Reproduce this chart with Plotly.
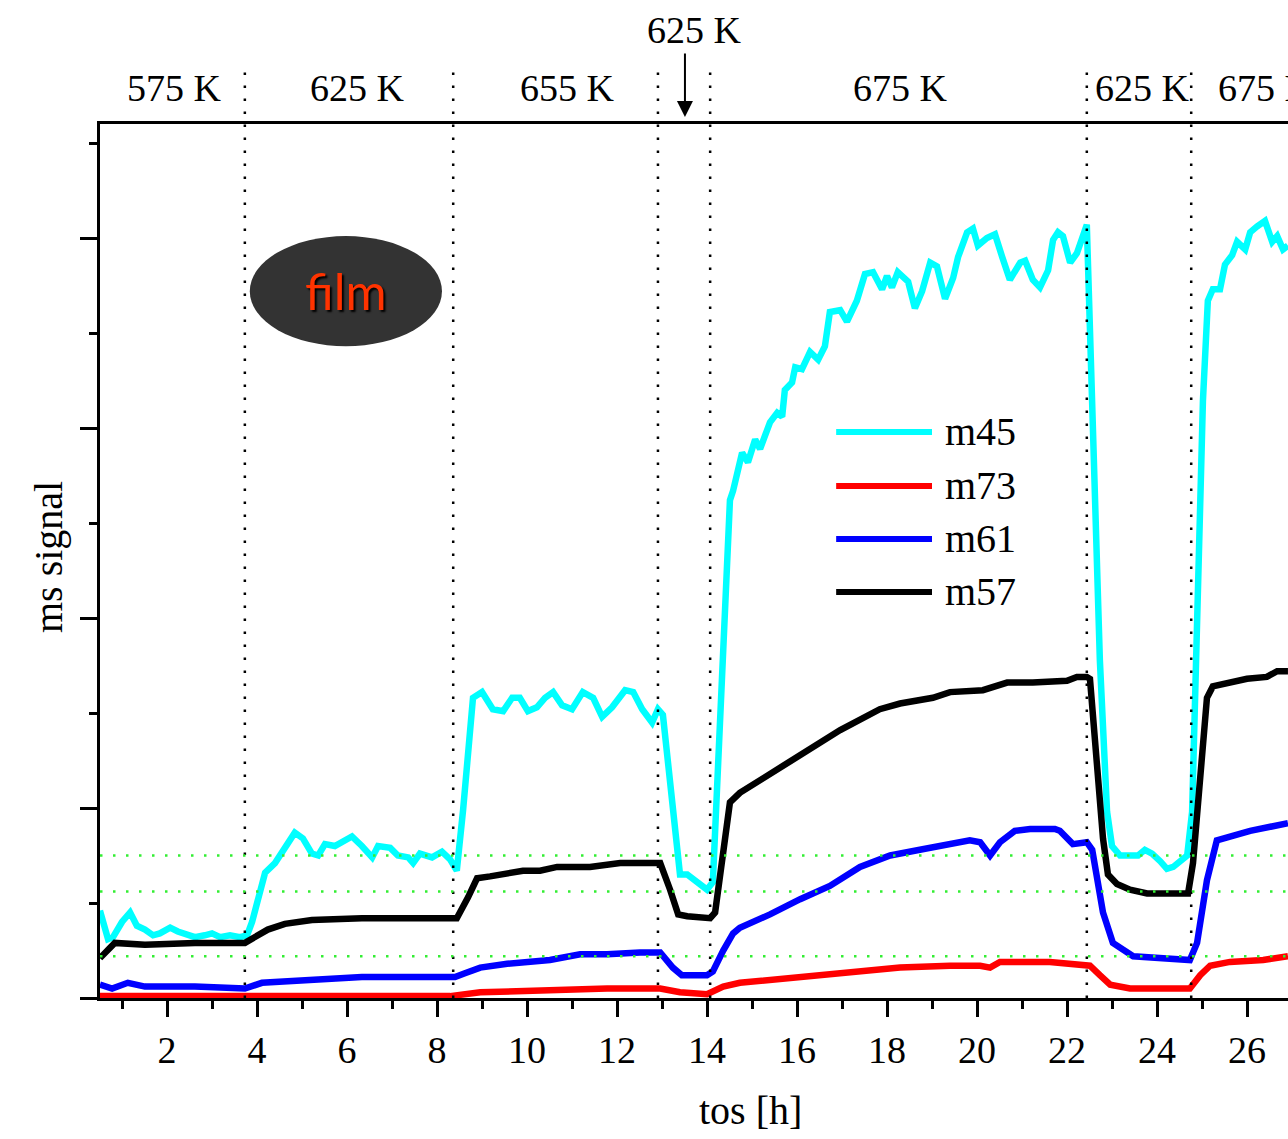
import plotly.graph_objects as go

# ---------------- data (tos [h], ms signal in arbitrary units) ----------------
m45_x = [0.51, 0.69, 0.80, 1.00, 1.18, 1.33, 1.51, 1.69, 1.84, 2.07, 2.24, 2.40, 2.62, 2.84, 3.00, 3.18,
         3.40, 3.62, 3.78, 3.89, 4.02, 4.18, 4.40, 4.62, 4.84, 5.02, 5.22, 5.36, 5.51, 5.73, 5.91, 6.11,
         6.33, 6.56, 6.69, 6.96, 7.13, 7.36, 7.47, 7.62, 7.89, 8.11, 8.29, 8.44, 8.58, 8.80, 9.00, 9.24,
         9.47, 9.67, 9.84, 10.02, 10.22, 10.40, 10.58, 10.78, 11.00, 11.24, 11.47, 11.67, 11.89, 12.18,
         12.36, 12.56, 12.78, 12.91, 13.02, 13.18, 13.40, 13.56, 13.80, 14.00, 14.13, 14.51, 14.58, 14.67,
         14.78, 14.91, 15.07, 15.18, 15.40, 15.56, 15.67, 15.73, 15.89, 15.96, 16.11, 16.29, 16.47, 16.62,
         16.73, 16.96, 17.11, 17.33, 17.51, 17.69, 17.89, 18.00, 18.11, 18.24, 18.47, 18.62, 18.78, 18.96,
         19.11, 19.29, 19.47, 19.58, 19.78, 19.91, 20.02, 20.22, 20.40, 20.56, 20.73, 20.96, 21.07, 21.24,
         21.40, 21.58, 21.69, 21.80, 21.91, 22.07, 22.22, 22.44, 22.58, 22.73, 22.89, 23.00, 23.18, 23.40,
         23.58, 23.73, 23.89, 24.07, 24.22, 24.36, 24.51, 24.67, 24.78, 24.89, 25.02, 25.13, 25.24, 25.40,
         25.51, 25.67, 25.78, 25.96, 26.07, 26.22, 26.40, 26.56, 26.67, 26.80, 26.91]
m45_y = [0.46, 0.31, 0.32, 0.40, 0.45, 0.38, 0.36, 0.33, 0.34, 0.37, 0.35, 0.34, 0.32, 0.33, 0.34, 0.32,
         0.33, 0.32, 0.33, 0.40, 0.52, 0.66, 0.71, 0.79, 0.87, 0.84, 0.76, 0.75, 0.81, 0.80, 0.82, 0.85,
         0.80, 0.74, 0.80, 0.79, 0.75, 0.74, 0.71, 0.76, 0.74, 0.77, 0.73, 0.67, 0.99, 1.58, 1.61, 1.52,
         1.51, 1.58, 1.58, 1.51, 1.53, 1.58, 1.61, 1.54, 1.52, 1.61, 1.58, 1.48, 1.53, 1.62,
         1.61, 1.52, 1.45, 1.52, 1.49, 1.16, 0.65, 0.65, 0.61, 0.57, 0.61, 2.62, 2.67, 2.78,
         2.87, 2.82, 2.94, 2.89, 3.03, 3.08, 3.06, 3.20, 3.24, 3.32, 3.31, 3.40, 3.36, 3.43,
         3.61, 3.62, 3.56, 3.67, 3.81, 3.82, 3.73, 3.80, 3.74, 3.82, 3.77, 3.63, 3.72, 3.87,
         3.85, 3.68, 3.79, 3.90, 4.03, 4.05, 3.96, 4.00, 4.02, 3.90, 3.78, 3.87, 3.88, 3.78,
         3.74, 3.83, 3.99, 4.03, 4.01, 3.87, 3.92, 4.07, 2.86, 1.78, 0.98, 0.80, 0.75, 0.75,
         0.75, 0.78, 0.76, 0.72, 0.68, 0.69, 0.72, 0.75, 0.98, 2.06, 3.14, 3.67, 3.73, 3.73,
         3.86, 3.91, 3.98, 3.94, 4.03, 4.06, 4.09, 3.98, 4.01, 3.94, 3.96]

m73_x = [0.51, 2.73, 8.29, 8.96, 10.29, 11.78, 12.96, 13.40, 14.00, 14.36, 14.73, 16.07, 17.18, 18.29,
         19.40, 20.07, 20.29, 20.51, 21.62, 22.29, 22.51, 22.73, 22.96, 23.40, 24.73, 24.96, 25.18,
         25.62, 26.36, 26.91]
m73_y = [0.01, 0.01, 0.01, 0.03, 0.04, 0.05, 0.05, 0.03, 0.02, 0.06, 0.08, 0.11, 0.14, 0.16,
         0.17, 0.17, 0.16, 0.19, 0.19, 0.18, 0.17, 0.12, 0.07, 0.05, 0.05, 0.12, 0.17,
         0.19, 0.20, 0.22]

m61_x = [0.51, 0.78, 1.13, 1.51, 2.62, 3.73, 4.11, 4.84, 5.96, 6.33, 7.80, 8.40, 8.62, 8.96, 9.56,
         10.51, 11.18, 11.78, 12.51, 12.96, 13.24, 13.44, 14.00, 14.13, 14.36, 14.58, 14.73, 15.40,
         16.07, 16.73, 17.40, 18.07, 18.73, 19.40, 19.84, 20.07, 20.29, 20.51, 20.84, 21.18, 21.73,
         21.84, 22.13, 22.44, 22.56, 22.80, 23.02, 23.47, 24.73, 24.89, 25.11, 25.33, 26.07, 26.91]
m61_y = [0.07, 0.05, 0.08, 0.06, 0.06, 0.05, 0.08, 0.09, 0.10, 0.11, 0.11, 0.11, 0.13, 0.16, 0.18,
         0.20, 0.23, 0.23, 0.24, 0.24, 0.16, 0.12, 0.12, 0.14, 0.25, 0.34, 0.37, 0.44,
         0.52, 0.59, 0.69, 0.75, 0.78, 0.81, 0.83, 0.82, 0.75, 0.82, 0.88, 0.89, 0.89,
         0.88, 0.81, 0.82, 0.78, 0.45, 0.29, 0.22, 0.20, 0.29, 0.62, 0.83, 0.88, 0.92]

m57_x = [0.51, 0.84, 1.51, 2.62, 3.73, 3.96, 4.24, 4.62, 5.22, 6.33, 7.80, 8.44, 8.69, 8.89, 9.18,
         9.91, 10.29, 10.67, 11.40, 12.07, 12.51, 12.96, 13.18, 13.36, 13.56, 14.07, 14.18, 14.33,
         14.51, 14.73, 15.42, 16.07, 16.96, 17.84, 18.29, 19.02, 19.40, 20.13, 20.67, 21.24, 22.00,
         22.22, 22.44, 22.51, 22.67, 22.80, 22.91, 23.11, 23.40, 23.78, 24.13, 24.69, 24.80, 24.96,
         25.11, 25.24, 25.56, 26.00, 26.44, 26.67, 26.91]
m57_y = [0.21, 0.29, 0.28, 0.29, 0.29, 0.32, 0.36, 0.39, 0.41, 0.42, 0.42, 0.42, 0.53, 0.63, 0.64,
         0.67, 0.67, 0.69, 0.69, 0.71, 0.71, 0.71, 0.57, 0.44, 0.43, 0.42, 0.45, 0.73,
         1.03, 1.08, 1.18, 1.28, 1.41, 1.52, 1.55, 1.58, 1.61, 1.62, 1.66, 1.66, 1.67,
         1.69, 1.69, 1.68, 1.25, 0.84, 0.65, 0.60, 0.57, 0.55, 0.55, 0.55, 0.71, 1.17,
         1.58, 1.64, 1.66, 1.68, 1.69, 1.72, 1.72]

series_names = ["m45", "m73", "m61", "m57"]
series_colors = ["#00FFFF", "#FF0000", "#0000FF", "#000000"]

# temperature periods
boundaries = [3.73, 8.36, 12.91, 14.07, 22.44, 24.76]
temp_labels = ["575 K", "625 K", "655 K", "625 K", "675 K", "625 K", "675 K"]
temp_label_x = [2.16, 6.24, 10.89, 13.73, 18.31, 23.67, 25.31]
green_levels = [0.75, 0.56, 0.22]

SERIF = "Liberation Serif, Times New Roman, serif"

fig = go.Figure()
for name, col, xs, ys in zip(series_names, series_colors,
                             [m45_x, m73_x, m61_x, m57_x], [m45_y, m73_y, m61_y, m57_y]):
    fig.add_trace(go.Scatter(x=xs, y=ys, mode="lines", name=name,
                             line=dict(color=col, width=6.5), showlegend=False))

shapes = []
for b in boundaries:
    shapes.append(dict(type="line", xref="x", yref="paper", x0=b, x1=b, y0=0, y1=1.066,
                       line=dict(color="black", width=2.5, dash="2.5px,10.5px")))
for g in green_levels:
    shapes.append(dict(type="line", xref="paper", yref="y", x0=0, x1=1, y0=g, y1=g,
                       line=dict(color="#33EE33", width=2.5, dash="2.5px,10.5px")))

# "film" ellipse
shapes.append(dict(type="circle", xref="x", yref="y", x0=3.84, x1=8.11, y0=3.43, y1=4.01,
                   fillcolor="#333333", line=dict(width=0), layer="above"))

# manual legend
leg_y = [2.979, 2.695, 2.416, 2.137]
for yv, col in zip(leg_y, series_colors):
    shapes.append(dict(type="line", xref="x", yref="y", x0=16.87, x1=19.0, y0=yv, y1=yv,
                       line=dict(color=col, width=6)))

annotations = []
for yv, name in zip(leg_y, series_names):
    annotations.append(dict(x=19.24, y=yv, xref="x", yref="y", text=name, showarrow=False,
                            xanchor="left", yanchor="middle",
                            font=dict(family=SERIF, size=40, color="black")))

# temperature labels
for i, (lab, lx) in enumerate(zip(temp_labels, temp_label_x)):
    if i == 3:
        annotations.append(dict(x=lx, y=(998 - 30) / 874, xref="x", yref="paper", text=lab,
                                showarrow=False, xanchor="center", yanchor="middle",
                                font=dict(family=SERIF, size=38, color="black")))
    else:
        annotations.append(dict(x=lx, y=(998 - 88) / 874, xref="x", yref="paper", text=lab,
                                showarrow=False, xanchor="left" if i == 6 else "center",
                                yanchor="middle",
                                font=dict(family=SERIF, size=38, color="black")))
# arrow to short 625 K period
annotations.append(dict(x=13.51, y=(998 - 117) / 874, xref="x", yref="paper", text="",
                        showarrow=True, ax=0, ay=-65, arrowhead=2, arrowsize=1.6,
                        arrowwidth=2, arrowcolor="black"))

# film text with shadow
annotations.append(dict(x=5.98, y=3.72, xref="x", yref="y", text="film", showarrow=False,
                        font=dict(family="Lato, Noto Sans, sans-serif", size=50, color="#FF3300",
                                  shadow="2px 2px 2px #000000")))

# axis titles
annotations.append(dict(x=(750 - 100) / 1188, y=(998 - 1110) / 874, xref="paper", yref="paper",
                        text="tos [h]", showarrow=False, xanchor="center", yanchor="middle",
                        font=dict(family=SERIF, size=40, color="black")))
annotations.append(dict(x=(48 - 100) / 1188, y=(998 - 557) / 874, xref="paper", yref="paper",
                        text="ms signal", showarrow=False, textangle=-90,
                        xanchor="center", yanchor="middle",
                        font=dict(family=SERIF, size=40, color="black")))

fig.update_layout(
    width=1288, height=1139,
    margin=dict(l=100, r=0, t=124, b=141),
    paper_bgcolor="white", plot_bgcolor="white",
    shapes=shapes, annotations=annotations,
    showlegend=False,
    xaxis=dict(range=[0.511, 26.911], tick0=0, dtick=2, showgrid=False, zeroline=False,
               showline=True, linecolor="black", linewidth=3, mirror=True,
               ticks="outside", ticklen=16, tickwidth=3, tickcolor="black",
               minor=dict(dtick=1, ticks="outside", ticklen=8, tickwidth=3, tickcolor="black",
                          showgrid=False),
               tickfont=dict(family=SERIF, size=38, color="black")),
    yaxis=dict(range=[0, 4.6], tick0=0, dtick=1, showgrid=False, zeroline=False,
               showline=True, linecolor="black", linewidth=3, mirror=False,
               ticks="outside", ticklen=17, tickwidth=3, tickcolor="black",
               showticklabels=False,
               minor=dict(dtick=0.5, ticks="outside", ticklen=8, tickwidth=3, tickcolor="black",
                          showgrid=False)),
)

fig.write_html("out.html", config={"displayModeBar": False},
               post_script="document.body.style.margin='0';document.body.style.overflow='hidden';")
